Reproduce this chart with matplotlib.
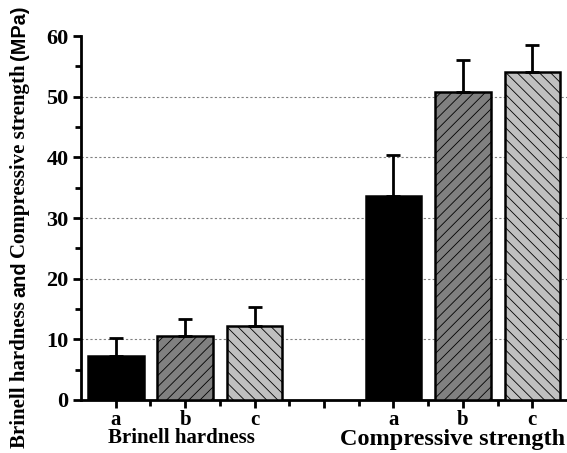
import matplotlib.pyplot as plt
import numpy as np

# sample groups and measured values (MPa)
samples = ["a", "b", "c"]
brinell = [7.2, 10.6, 12.2]
brinell_err = [3.0, 2.8, 3.2]
compressive = [33.6, 50.7, 54.1]
compressive_err = [6.8, 5.3, 4.5]
groups = ["Brinell hardness", "Compressive strength"]

colors = ["black", "#808080", "#c0c0c0"]
hatches = ["", "///", "\\\\\\"]

plt.rcParams["font.family"] = "Liberation Serif"
plt.rcParams["font.weight"] = "bold"
plt.rcParams["hatch.linewidth"] = 0.6

fig = plt.figure(figsize=(5.67, 4.53), dpi=100)
ax = fig.add_axes([0.143, 0.117, 0.857, 0.8035])

pos_b = np.array([1, 2, 3])
pos_c = np.array([5, 6, 7])

for i in range(3):
    ax.bar(pos_b[i], brinell[i], width=0.8, color=colors[i], edgecolor="black",
           hatch=hatches[i], linewidth=1.8, zorder=3)
    ax.errorbar(pos_b[i], brinell[i], yerr=[[0], [brinell_err[i]]], color="black",
                capsize=5, elinewidth=2, capthick=2, zorder=4)
    ax.bar(pos_c[i], compressive[i], width=0.8, color=colors[i], edgecolor="black",
           hatch=hatches[i], linewidth=1.8, zorder=3)
    ax.errorbar(pos_c[i], compressive[i], yerr=[[0], [compressive_err[i]]], color="black",
                capsize=5, elinewidth=2, capthick=2, zorder=4)

ax.set_xlim(0.5, 7.5)
ax.set_ylim(0, 60)
ax.set_xticks([1, 2, 3, 4, 5, 6, 7])
ax.set_xticklabels(samples + [""] + samples, fontsize=15, fontweight="bold")
ax.set_xticks(np.arange(1.5, 7.5, 1), minor=True)
ax.set_yticks(np.arange(0, 61, 10))
ax.set_yticks(np.arange(5, 60, 10), minor=True)
ax.tick_params(axis="y", labelsize=16, width=2, length=6, pad=3)
ax.tick_params(axis="y", which="minor", width=2, length=4)
ax.tick_params(axis="x", width=2, length=6, pad=1)
ax.tick_params(axis="x", which="minor", width=2, length=4)
for lab in ax.get_yticklabels():
    lab.set_fontweight("bold")

for y in range(10, 60, 10):
    ax.axhline(y, color="gray", linestyle=(0, (2, 2)), linewidth=0.8, zorder=1)

ax.spines["top"].set_visible(False)
ax.spines["right"].set_visible(False)
ax.spines["left"].set_linewidth(2)
ax.spines["bottom"].set_linewidth(2)

# y label built from pieces so "and" and "(MPa)" use a sans face
pieces = [("Brinell hardness", "Liberation Serif", 15),
          ("and", "Liberation Sans", 14.3),
          ("Compressive strength", "Liberation Serif", 15),
          ("(MPa)", "Liberation Sans", 14.3)]
renderer = fig.canvas.get_renderer()
ypos = 5
for s, fam, size in pieces:
    t = fig.text(25, ypos, s, transform=None, rotation=90, rotation_mode="anchor",
                 ha="left", va="baseline", fontsize=size, fontweight="bold", family=fam)
    ypos = t.get_window_extent(renderer).y1 + 4

ax.text(1.95, -7.1, groups[0], ha="center", va="baseline", fontsize=15, fontweight="bold")
ax.text(5.85, -7.4, groups[1], ha="center", va="baseline", fontsize=17.5, fontweight="bold")

fig.savefig("out.png", dpi=100)
